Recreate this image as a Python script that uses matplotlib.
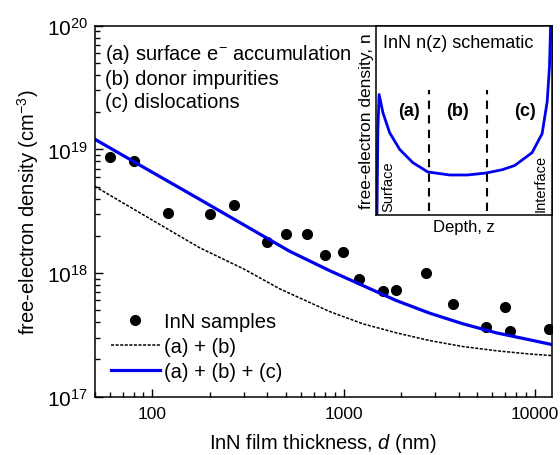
import numpy as np
import matplotlib
matplotlib.use("Agg")
import matplotlib.pyplot as plt
from matplotlib.ticker import LogLocator, FixedLocator, NullFormatter, FixedFormatter

plt.rcParams['font.family'] = ['Liberation Sans', 'DejaVu Sans']
plt.rcParams['mathtext.fontset'] = 'custom'
plt.rcParams['mathtext.rm'] = 'Liberation Sans'
plt.rcParams['mathtext.it'] = 'Liberation Sans:italic'

# measured samples
thickness_nm = [60, 80, 121, 201, 269, 399, 498, 647, 800, 998,
                1197, 1607, 1889, 2711, 3722, 5517, 6982, 7417, 11860]
density = [8.7e18, 8.1e18, 3.06e18, 3.01e18, 3.53e18, 1.77e18, 2.06e18, 2.06e18,
           1.41e18, 1.48e18, 8.9e17, 7.1e17, 7.3e17, 1.0e18, 5.6e17, 3.66e17,
           5.3e17, 3.42e17, 3.53e17]

# model curves
ab_x = [50, 100, 177, 300, 465, 845, 1262, 1888, 2819, 4210, 6290, 9400, 12220]
ab_y = [5.03e18, 2.68e18, 1.60e18, 1.08e18, 7.43e17, 4.88e17, 3.88e17, 3.28e17,
        2.84e17, 2.54e17, 2.35e17, 2.21e17, 2.15e17]
abc_x = [50, 100, 177, 300, 522, 845, 1262, 1888, 2819, 4210, 6290, 9400, 12220]
abc_y = [1.21e19, 6.53e18, 3.94e18, 2.46e18, 1.50e18, 1.045e18, 7.91e17, 5.98e17,
         4.73e17, 3.88e17, 3.28e17, 2.88e17, 2.64e17]

# inset schematic n(z)
z_pts = [0.007, 0.012, 0.019, 0.041, 0.079, 0.136, 0.211, 0.296, 0.42, 0.52,
         0.625, 0.72, 0.79, 0.889, 0.946, 0.975, 0.988, 0.994]
n_pts = [0.0, 0.45, 0.637, 0.54, 0.435, 0.347, 0.277, 0.228, 0.212, 0.212,
         0.222, 0.24, 0.262, 0.33, 0.43, 0.6, 0.786, 0.996]
region_bounds = [0.30, 0.63]
region_labels = ['(a)', '(b)', '(c)']
region_label_z = [0.19, 0.465, 0.85]

fig = plt.figure(figsize=(5.6, 4.56), dpi=100)
ax = fig.add_axes([0.169, 0.128, 0.816, 0.8134])

ax.plot(thickness_nm, density, 'o', color='black', ms=7, label='InN samples')
ax.plot(ab_x, ab_y, color='black', lw=1.1, ls=(0, (2, 1)), label='(a) + (b)')
ax.plot(abc_x, abc_y, color='#0000ee', lw=2.3, label='(a) + (b) + (c)')

ax.set_xscale('log')
ax.set_yscale('log')
ax.set_xlim(50, 12220)
ax.set_ylim(1e17, 1e20)
ax.xaxis.set_major_locator(FixedLocator([100, 1000, 10000]))
ax.xaxis.set_major_formatter(FixedFormatter(['100', '1000', '10000']))
ax.xaxis.set_minor_locator(LogLocator(base=10, subs=np.arange(2, 10)))
ax.xaxis.set_minor_formatter(NullFormatter())
ax.yaxis.set_minor_locator(LogLocator(base=10, subs=np.arange(2, 10)))
ax.yaxis.set_minor_formatter(NullFormatter())
ax.tick_params(which='both', direction='in', top=False, right=False)
ax.tick_params(which='major', length=6, width=1)
ax.tick_params(which='minor', length=3.5, width=1)
ax.tick_params(axis='x', labelsize=12.5, pad=7)
ax.tick_params(axis='y', labelsize=15, pad=5)
for s in ax.spines.values():
    s.set_linewidth(1.1)

ax.set_xlabel('InN film thickness, $\\mathit{d}$ (nm)', fontsize=14.5, labelpad=7)
ax.set_ylabel('free-electron density (cm$^{-3}$)', fontsize=14.5, labelpad=4)

ax.text(0.022, 0.924, '(a) surface e$^{-}$ accumulation', transform=ax.transAxes,
        fontsize=14.5, va='center')
ax.text(0.022, 0.858, '(b) donor impurities', transform=ax.transAxes,
        fontsize=14.5, va='center')
ax.text(0.022, 0.795, '(c) dislocations', transform=ax.transAxes,
        fontsize=14.5, va='center')

ax.legend(loc='lower left', bbox_to_anchor=(0.01, 0.01), frameon=False,
          fontsize=14.5, handlelength=2.4, handletextpad=0.2, labelspacing=0.3,
          borderaxespad=0.2, numpoints=1)

# inset
ins = fig.add_axes([0.671, 0.526, 0.314, 0.4154])
ins.plot(z_pts, n_pts, color='#0000ee', lw=2)
for zb in region_bounds:
    ins.plot([zb, zb], [0.02, 0.66], color='black', lw=1.5, ls=(0, (4, 3)))
for lab, zl in zip(region_labels, region_label_z):
    ins.text(zl, 0.555, lab, fontsize=13, fontweight='bold', ha='center', va='center')
ins.text(0.04, 0.91, 'InN n(z) schematic', fontsize=13, va='center')
ins.text(0.07, 0.02, 'Surface', rotation=90, fontsize=10.5, ha='center', va='bottom')
ins.text(0.94, 0.02, 'Interface', rotation=90, fontsize=10.5, ha='center', va='bottom')
ins.set_xlim(0, 1)
ins.set_ylim(0, 1)
ins.set_xticks([])
ins.set_yticks([])
ins.set_xlabel('Depth, z', fontsize=12, labelpad=3)
ins.set_ylabel('free-electron density, n', fontsize=12.5, labelpad=1)
for s in ins.spines.values():
    s.set_linewidth(1.1)

fig.savefig('out.png', dpi=100)
